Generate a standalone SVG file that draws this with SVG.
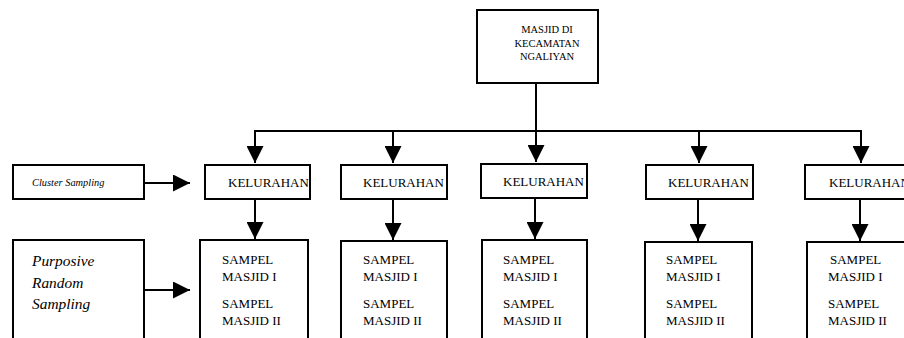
<svg xmlns="http://www.w3.org/2000/svg" width="904" height="338" viewBox="0 0 904 338">
<defs>
<style>
.box{fill:#fff;stroke:#000;stroke-width:2}
.ln{fill:none;stroke:#000;stroke-width:2}
.t{font-family:'Liberation Serif',serif;fill:#000}
.it{font-style:italic}
</style>
<marker id="ah" markerWidth="17" markerHeight="17" viewBox="0 0 17 17" refX="17" refY="8.5" orient="auto" markerUnits="userSpaceOnUse">
<path d="M0,0 L17,8.5 L0,17 Z" fill="#000"/>
</marker>
</defs>
<rect width="904" height="338" fill="#fff"/>
<g id="top">
<rect class="box" x="477" y="10" width="121" height="73"/>
<text class="t" font-size="10.5" text-anchor="middle" x="547" y="33">MASJID DI</text>
<text class="t" font-size="10.5" text-anchor="middle" x="547" y="47">KECAMATAN</text>
<text class="t" font-size="10.5" text-anchor="middle" x="547" y="60">NGALIYAN</text>
</g>
<g id="cluster">
<rect class="box" x="13" y="165" width="131" height="34"/>
<text class="t it" font-size="10.4" x="32" y="186">Cluster Sampling</text>
</g>
<g id="purposive">
<rect class="box" x="13" y="240" width="131" height="110"/>
<text class="t it" font-size="15.4" x="32" y="266">Purposive</text>
<text class="t it" font-size="15.4" x="32" y="288">Random</text>
<text class="t it" font-size="15.4" x="32" y="309">Sampling</text>
</g>
<g id="kel1"><rect class="box" x="205" y="165" width="105" height="34"/><text class="t" font-size="13" x="228" y="187">KELURAHAN</text></g>
<g id="kel2"><rect class="box" x="341" y="165" width="106" height="34"/><text class="t" font-size="13" x="363" y="187">KELURAHAN</text></g>
<g id="kel3"><rect class="box" x="481" y="164" width="106" height="34"/><text class="t" font-size="13" x="503" y="186">KELURAHAN</text></g>
<g id="kel4"><rect class="box" x="646" y="165" width="107" height="34"/><text class="t" font-size="13" x="668" y="187">KELURAHAN</text></g>
<g id="kel5"><rect class="box" x="805" y="165" width="120" height="34"/><text class="t" font-size="13" x="829" y="187">KELURAHAN</text></g>
<g id="sam1"><rect class="box" x="200" y="240" width="108" height="110"/>
<text class="t" font-size="13" x="222" y="264">SAMPEL</text><text class="t" font-size="13" x="222" y="281">MASJID I</text>
<text class="t" font-size="13" x="222" y="308">SAMPEL</text><text class="t" font-size="13" x="222" y="325">MASJID II</text></g>
<g id="sam2"><rect class="box" x="341" y="241" width="106" height="110"/>
<text class="t" font-size="13" x="363" y="264">SAMPEL</text><text class="t" font-size="13" x="363" y="281">MASJID I</text>
<text class="t" font-size="13" x="363" y="308">SAMPEL</text><text class="t" font-size="13" x="363" y="325">MASJID II</text></g>
<g id="sam3"><rect class="box" x="482" y="240" width="105" height="110"/>
<text class="t" font-size="13" x="503" y="264">SAMPEL</text><text class="t" font-size="13" x="503" y="281">MASJID I</text>
<text class="t" font-size="13" x="503" y="308">SAMPEL</text><text class="t" font-size="13" x="503" y="325">MASJID II</text></g>
<g id="sam4"><rect class="box" x="645" y="242" width="107" height="110"/>
<text class="t" font-size="13" x="666" y="264">SAMPEL</text><text class="t" font-size="13" x="666" y="281">MASJID I</text>
<text class="t" font-size="13" x="666" y="308">SAMPEL</text><text class="t" font-size="13" x="666" y="325">MASJID II</text></g>
<g id="sam5"><rect class="box" x="807" y="242" width="120" height="110"/>
<text class="t" font-size="13" x="830" y="264">SAMPEL</text><text class="t" font-size="13" x="828" y="281">MASJID I</text>
<text class="t" font-size="13" x="828" y="308">SAMPEL</text><text class="t" font-size="13" x="828" y="325">MASJID II</text></g>
<g id="connectors">
<path class="ln" d="M536,83 V131"/>
<path class="ln" d="M254,131 H862"/>
<path class="ln" d="M255,130 V163" marker-end="url(#ah)"/>
<path class="ln" d="M393,130 V163" marker-end="url(#ah)"/>
<path class="ln" d="M536,131 V162" marker-end="url(#ah)"/>
<path class="ln" d="M699,130 V163" marker-end="url(#ah)"/>
<path class="ln" d="M861,130 V163" marker-end="url(#ah)"/>
<path class="ln" d="M144,183 H190" marker-end="url(#ah)"/>
<path class="ln" d="M144,290 H190" marker-end="url(#ah)"/>
<path class="ln" d="M255,199 V239" marker-end="url(#ah)"/>
<path class="ln" d="M393,199 V240" marker-end="url(#ah)"/>
<path class="ln" d="M535,198 V239" marker-end="url(#ah)"/>
<path class="ln" d="M698,199 V241" marker-end="url(#ah)"/>
<path class="ln" d="M860,199 V241" marker-end="url(#ah)"/>
</g>
</svg>
